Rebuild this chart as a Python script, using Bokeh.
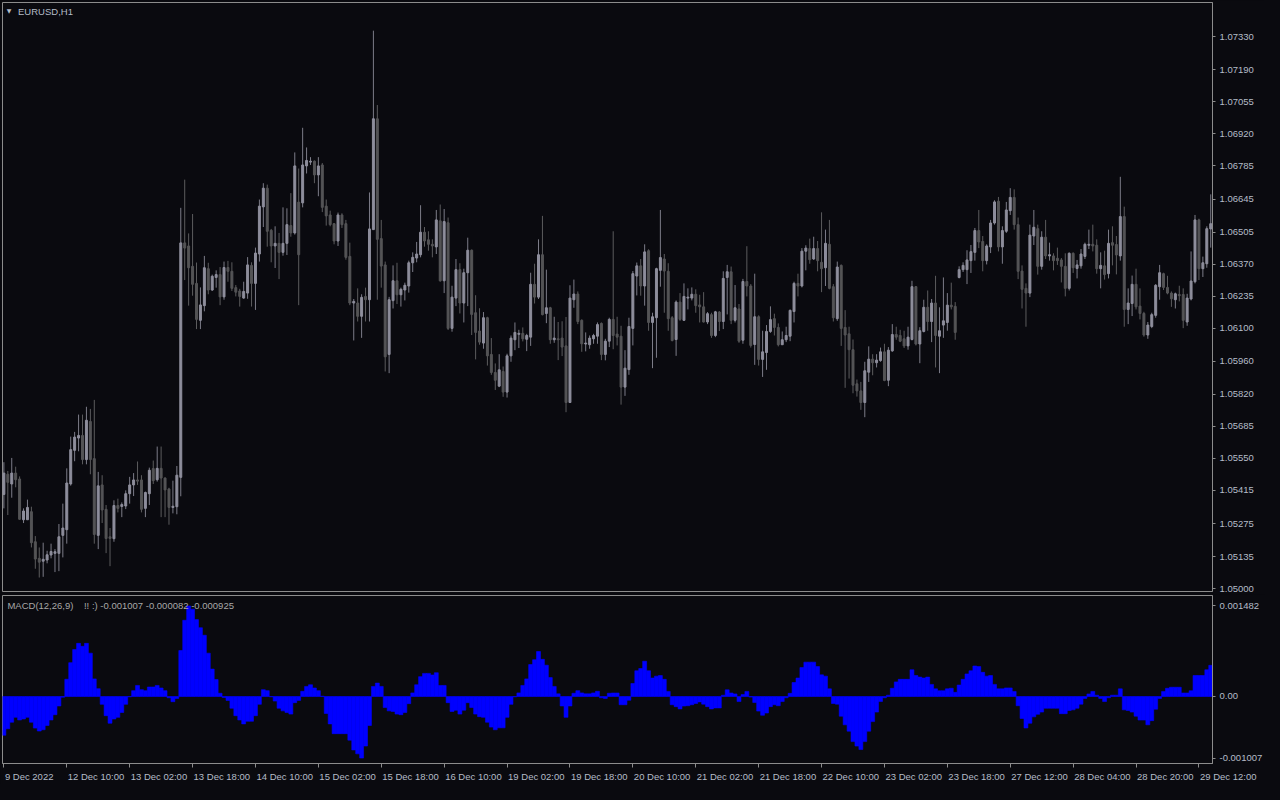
from bokeh.plotting import figure
from bokeh.models import (ColumnDataSource, Range1d, FixedTicker, Label,
                          PrintfTickFormatter, GlobalInlineStyleSheet)
from bokeh.layouts import column
from bokeh.embed import file_html
from bokeh.resources import INLINE
from bokeh.core.properties import value

# ---------------- data (EURUSD H1) ----------------
open_ = [
 1.05398, 1.05483, 1.05442, 1.05488, 1.05463, 1.05291, 1.05291, 1.05325, 1.05198, 1.05128,
 1.05116, 1.05121, 1.05142, 1.05149, 1.05149, 1.05225, 1.05249, 1.05442, 1.05584, 1.05636,
 1.05647, 1.05545, 1.05706, 1.05549, 1.05225, 1.05438, 1.05335, 1.05219, 1.05211, 1.05351,
 1.05347, 1.05349, 1.05401, 1.05438, 1.05459, 1.05459, 1.05339, 1.05401, 1.05507, 1.05460,
 1.05508, 1.05467, 1.05421, 1.05343, 1.05346, 1.05470, 1.06460, 1.06447, 1.06361, 1.06289,
 1.06133, 1.06195, 1.06351, 1.06261, 1.06314, 1.06326, 1.06232, 1.06356, 1.06340, 1.06271,
 1.06257, 1.06227, 1.06248, 1.06365, 1.06289, 1.06413, 1.06612, 1.06691, 1.06513, 1.06447,
 1.06458, 1.06420, 1.06458, 1.06533, 1.06502, 1.06632, 1.06629, 1.06785, 1.06801, 1.06805,
 1.06747, 1.06789, 1.06615, 1.06578, 1.06541, 1.06468, 1.06578, 1.06541, 1.06403, 1.06206,
 1.06206, 1.06150, 1.06234, 1.06220, 1.06516, 1.06984, 1.06478, 1.06367, 1.05989, 1.06216,
 1.06300, 1.06241, 1.06261, 1.06278, 1.06376, 1.06396, 1.06410, 1.06505, 1.06473, 1.06454,
 1.06443, 1.06553, 1.06300, 1.06545, 1.06099, 1.06227, 1.06347, 1.06206, 1.06334, 1.06429,
 1.06165, 1.06088, 1.06037, 1.06144, 1.05989, 1.05913, 1.05855, 1.05917, 1.05830, 1.05983,
 1.06051, 1.06074, 1.06078, 1.06053, 1.06062, 1.06285, 1.06231, 1.06410, 1.06162, 1.06186,
 1.06051, 1.06055, 1.06058, 1.06025, 1.05786, 1.06220, 1.06244, 1.06133, 1.06033, 1.06030,
 1.06055, 1.06066, 1.06120, 1.05989, 1.06045, 1.06137, 1.06075, 1.06066, 1.05851, 1.05925,
 1.06099, 1.06320, 1.06363, 1.06278, 1.06427, 1.06124, 1.06144, 1.06344, 1.06392, 1.06340,
 1.06144, 1.06052, 1.06210, 1.06133, 1.06227, 1.06227, 1.06243, 1.06198, 1.06190, 1.06126,
 1.06157, 1.06069, 1.06168, 1.06128, 1.06314, 1.06338, 1.06133, 1.06181, 1.06049, 1.06297,
 1.06278, 1.06031, 1.06148, 1.05968, 1.05997, 1.06086, 1.06140, 1.06103, 1.06030, 1.06051,
 1.06066, 1.06170, 1.06289, 1.06278, 1.06425, 1.06436, 1.06392, 1.06436, 1.06378, 1.06355,
 1.06454, 1.06275, 1.06140, 1.06365, 1.06103, 1.06076, 1.06009, 1.05865, 1.05835, 1.05786,
 1.05914, 1.05969, 1.05954, 1.05963, 1.06000, 1.05880, 1.06004, 1.06073, 1.06069, 1.06055,
 1.06025, 1.06052, 1.06275, 1.06033, 1.06086, 1.06188, 1.06128, 1.06206, 1.06066, 1.06113,
 1.06124, 1.06197, 1.06192, 1.06314, 1.06347, 1.06347, 1.06385, 1.06420, 1.06512, 1.06466,
 1.06385, 1.06443, 1.06544, 1.06636, 1.06443, 1.06509, 1.06596, 1.06652, 1.06537, 1.06341,
 1.06268, 1.06248, 1.06489, 1.06520, 1.06361, 1.06484, 1.06405, 1.06405, 1.06395, 1.06388,
 1.06361, 1.06268, 1.06416, 1.06352, 1.06363, 1.06403, 1.06450, 1.06454, 1.06450, 1.06351,
 1.06363, 1.06330, 1.06461, 1.06453, 1.06405, 1.06571, 1.06179, 1.06204, 1.06285, 1.06193,
 1.06162, 1.06071, 1.06107, 1.06154, 1.06275, 1.06330, 1.06272, 1.06248, 1.06220, 1.06242,
 1.06242, 1.06126, 1.06223, 1.06296, 1.06557, 1.06351, 1.06372, 1.06519]

high = [
 1.05534, 1.05497, 1.05552, 1.05515, 1.05474, 1.05339, 1.05376, 1.05346, 1.05222, 1.05174,
 1.05194, 1.05160, 1.05190, 1.05167, 1.05273, 1.05359, 1.05508, 1.05642, 1.05662, 1.05735,
 1.05735, 1.05768, 1.05759, 1.05797, 1.05493, 1.05479, 1.05353, 1.05256, 1.05373, 1.05380,
 1.05364, 1.05415, 1.05472, 1.05488, 1.05537, 1.05479, 1.05410, 1.05511, 1.05541, 1.05600,
 1.05600, 1.05470, 1.05426, 1.05456, 1.05518, 1.06608, 1.06727, 1.06500, 1.06582, 1.06377,
 1.06272, 1.06405, 1.06376, 1.06326, 1.06344, 1.06358, 1.06381, 1.06384, 1.06378, 1.06282,
 1.06266, 1.06296, 1.06400, 1.06378, 1.06440, 1.06643, 1.06712, 1.06706, 1.06519, 1.06530,
 1.06502, 1.06610, 1.06606, 1.06670, 1.06842, 1.06774, 1.06946, 1.06863, 1.06822, 1.06808,
 1.06822, 1.06797, 1.06643, 1.06596, 1.06544, 1.06588, 1.06585, 1.06557, 1.06461, 1.06223,
 1.06268, 1.06243, 1.06271, 1.06673, 1.07356, 1.07042, 1.06557, 1.06381, 1.06232, 1.06365,
 1.06376, 1.06271, 1.06292, 1.06385, 1.06420, 1.06464, 1.06619, 1.06527, 1.06509, 1.06475,
 1.06599, 1.06622, 1.06603, 1.06567, 1.06279, 1.06392, 1.06374, 1.06351, 1.06482, 1.06432,
 1.06239, 1.06184, 1.06168, 1.06148, 1.06058, 1.05951, 1.05990, 1.05938, 1.05992, 1.06069,
 1.06124, 1.06093, 1.06103, 1.06076, 1.06334, 1.06372, 1.06475, 1.06574, 1.06347, 1.06190,
 1.06148, 1.06126, 1.06129, 1.06147, 1.06281, 1.06305, 1.06255, 1.06137, 1.06082, 1.06069,
 1.06076, 1.06124, 1.06124, 1.06055, 1.06144, 1.06509, 1.06148, 1.06110, 1.06007, 1.06144,
 1.06341, 1.06377, 1.06392, 1.06454, 1.06433, 1.06165, 1.06355, 1.06599, 1.06413, 1.06374,
 1.06151, 1.06217, 1.06248, 1.06289, 1.06268, 1.06272, 1.06264, 1.06241, 1.06252, 1.06168,
 1.06165, 1.06173, 1.06172, 1.06340, 1.06367, 1.06360, 1.06282, 1.06202, 1.06308, 1.06446,
 1.06286, 1.06330, 1.06154, 1.06089, 1.06113, 1.06192, 1.06161, 1.06120, 1.06086, 1.06106,
 1.06179, 1.06296, 1.06330, 1.06438, 1.06450, 1.06478, 1.06486, 1.06468, 1.06589, 1.06516,
 1.06557, 1.06286, 1.06381, 1.06369, 1.06176, 1.06106, 1.06052, 1.05883, 1.05873, 1.05958,
 1.06023, 1.05990, 1.05990, 1.06018, 1.06034, 1.06020, 1.06117, 1.06106, 1.06093, 1.06089,
 1.06106, 1.06300, 1.06278, 1.06104, 1.06220, 1.06259, 1.06223, 1.06321, 1.06188, 1.06314,
 1.06248, 1.06292, 1.06210, 1.06361, 1.06378, 1.06429, 1.06451, 1.06523, 1.06599, 1.06489,
 1.06454, 1.06557, 1.06640, 1.06654, 1.06530, 1.06633, 1.06691, 1.06686, 1.06567, 1.06365,
 1.06289, 1.06537, 1.06599, 1.06537, 1.06509, 1.06557, 1.06461, 1.06416, 1.06440, 1.06396,
 1.06416, 1.06420, 1.06420, 1.06388, 1.06434, 1.06461, 1.06516, 1.06537, 1.06475, 1.06420,
 1.06427, 1.06516, 1.06530, 1.06489, 1.06739, 1.06613, 1.06268, 1.06322, 1.06351, 1.06268,
 1.06169, 1.06126, 1.06165, 1.06286, 1.06367, 1.06334, 1.06321, 1.06255, 1.06250, 1.06279,
 1.06268, 1.06245, 1.06424, 1.06578, 1.06562, 1.06402, 1.06530, 1.06665]

low = [
 1.05339, 1.05311, 1.05384, 1.05428, 1.05291, 1.05277, 1.05291, 1.05174, 1.05084, 1.05047,
 1.05050, 1.05107, 1.05128, 1.05070, 1.05074, 1.05132, 1.05190, 1.05435, 1.05538, 1.05580,
 1.05525, 1.05525, 1.05483, 1.05190, 1.05167, 1.05277, 1.05150, 1.05095, 1.05198, 1.05322,
 1.05302, 1.05336, 1.05359, 1.05391, 1.05438, 1.05322, 1.05302, 1.05353, 1.05442, 1.05452,
 1.05302, 1.05302, 1.05270, 1.05318, 1.05314, 1.05390, 1.06303, 1.06195, 1.06237, 1.06096,
 1.06096, 1.06171, 1.06243, 1.06257, 1.06271, 1.06197, 1.06220, 1.06296, 1.06257, 1.06234,
 1.06191, 1.06224, 1.06224, 1.06191, 1.06177, 1.06381, 1.06527, 1.06444, 1.06378, 1.06354,
 1.06307, 1.06406, 1.06409, 1.06486, 1.06495, 1.06197, 1.06610, 1.06753, 1.06789, 1.06712,
 1.06657, 1.06590, 1.06533, 1.06530, 1.06454, 1.06447, 1.06523, 1.06389, 1.06197, 1.06048,
 1.06128, 1.06059, 1.06128, 1.06128, 1.06516, 1.06220, 1.06271, 1.05917, 1.05910, 1.06183,
 1.06202, 1.06191, 1.06217, 1.06250, 1.06337, 1.06378, 1.06399, 1.06444, 1.06427, 1.06399,
 1.06413, 1.06296, 1.06248, 1.06092, 1.06085, 1.06193, 1.06162, 1.06124, 1.06193, 1.06071,
 1.05968, 1.06030, 1.06013, 1.05942, 1.05903, 1.05839, 1.05851, 1.05810, 1.05807, 1.05958,
 1.06007, 1.06016, 1.06044, 1.06003, 1.06025, 1.06204, 1.06223, 1.06154, 1.06121, 1.06034,
 1.06038, 1.05965, 1.05982, 1.05745, 1.05786, 1.06186, 1.06117, 1.06000, 1.06002, 1.06013,
 1.06034, 1.06034, 1.05965, 1.05964, 1.06020, 1.06011, 1.06027, 1.05777, 1.05814, 1.05903,
 1.06027, 1.06238, 1.06237, 1.06195, 1.06089, 1.05931, 1.05975, 1.06275, 1.06165, 1.06089,
 1.06044, 1.05983, 1.06131, 1.06131, 1.06179, 1.06217, 1.06165, 1.06124, 1.06124, 1.06117,
 1.06059, 1.06062, 1.06088, 1.06096, 1.06158, 1.06117, 1.06124, 1.06038, 1.06034, 1.06234,
 1.06018, 1.05945, 1.05942, 1.05894, 1.05924, 1.06080, 1.06069, 1.06023, 1.06030, 1.06041,
 1.06045, 1.06124, 1.06234, 1.06272, 1.06344, 1.06372, 1.06388, 1.06340, 1.06252, 1.06278,
 1.06264, 1.06128, 1.06131, 1.06025, 1.05848, 1.05887, 1.05825, 1.05811, 1.05755, 1.05724,
 1.05873, 1.05901, 1.05934, 1.05958, 1.05876, 1.05855, 1.06000, 1.06051, 1.06041, 1.06016,
 1.06009, 1.06048, 1.06027, 1.05952, 1.06082, 1.06089, 1.06041, 1.05934, 1.05910, 1.06059,
 1.06089, 1.06179, 1.06051, 1.06310, 1.06337, 1.06286, 1.06333, 1.06385, 1.06438, 1.06340,
 1.06369, 1.06417, 1.06537, 1.06424, 1.06372, 1.06502, 1.06578, 1.06516, 1.06307, 1.06183,
 1.06106, 1.06231, 1.06451, 1.06326, 1.06347, 1.06392, 1.06385, 1.06344, 1.06367, 1.06293,
 1.06234, 1.06259, 1.06333, 1.06310, 1.06351, 1.06392, 1.06434, 1.06424, 1.06330, 1.06268,
 1.06305, 1.06310, 1.06365, 1.06327, 1.06385, 1.06106, 1.06117, 1.06151, 1.06179, 1.06137,
 1.06064, 1.06055, 1.06100, 1.06144, 1.06220, 1.06261, 1.06243, 1.06190, 1.06183, 1.06213,
 1.06100, 1.06110, 1.06217, 1.06289, 1.06303, 1.06316, 1.06355, 1.06440]

close = [
 1.05488, 1.05449, 1.05488, 1.05460, 1.05293, 1.05328, 1.05343, 1.05194, 1.05125, 1.05112,
 1.05124, 1.05143, 1.05157, 1.05156, 1.05219, 1.05256, 1.05446, 1.05587, 1.05640, 1.05647,
 1.05545, 1.05711, 1.05545, 1.05229, 1.05434, 1.05332, 1.05212, 1.05212, 1.05351, 1.05339,
 1.05355, 1.05401, 1.05438, 1.05459, 1.05454, 1.05335, 1.05406, 1.05500, 1.05456, 1.05508,
 1.05467, 1.05417, 1.05343, 1.05348, 1.05479, 1.06460, 1.06438, 1.06355, 1.06285, 1.06137,
 1.06198, 1.06355, 1.06261, 1.06319, 1.06326, 1.06232, 1.06356, 1.06340, 1.06268, 1.06252,
 1.06234, 1.06255, 1.06367, 1.06289, 1.06417, 1.06615, 1.06691, 1.06509, 1.06447, 1.06458,
 1.06420, 1.06458, 1.06537, 1.06502, 1.06785, 1.06410, 1.06789, 1.06808, 1.06805, 1.06747,
 1.06785, 1.06610, 1.06574, 1.06537, 1.06468, 1.06578, 1.06537, 1.06399, 1.06206, 1.06213,
 1.06150, 1.06230, 1.06220, 1.06519, 1.06984, 1.06475, 1.06362, 1.05979, 1.06220, 1.06300,
 1.06241, 1.06264, 1.06281, 1.06376, 1.06399, 1.06413, 1.06505, 1.06468, 1.06454, 1.06447,
 1.06557, 1.06300, 1.06550, 1.06099, 1.06231, 1.06347, 1.06206, 1.06334, 1.06429, 1.06158,
 1.06082, 1.06041, 1.06144, 1.05983, 1.05913, 1.05880, 1.05924, 1.05830, 1.05983, 1.06058,
 1.06082, 1.06078, 1.06055, 1.06069, 1.06285, 1.06231, 1.06410, 1.06157, 1.06186, 1.06051,
 1.06058, 1.06051, 1.06020, 1.05786, 1.06227, 1.06244, 1.06128, 1.06034, 1.06037, 1.06058,
 1.06069, 1.06115, 1.05989, 1.06045, 1.06137, 1.06069, 1.06062, 1.05851, 1.05931, 1.06107,
 1.06330, 1.06363, 1.06278, 1.06422, 1.06124, 1.06148, 1.06351, 1.06398, 1.06341, 1.06140,
 1.06048, 1.06210, 1.06137, 1.06234, 1.06231, 1.06243, 1.06195, 1.06190, 1.06126, 1.06161,
 1.06069, 1.06169, 1.06128, 1.06310, 1.06338, 1.06133, 1.06186, 1.06045, 1.06297, 1.06278,
 1.06027, 1.06148, 1.05968, 1.06000, 1.06086, 1.06136, 1.06103, 1.06030, 1.06051, 1.06069,
 1.06175, 1.06289, 1.06278, 1.06425, 1.06438, 1.06389, 1.06436, 1.06385, 1.06351, 1.06458,
 1.06268, 1.06144, 1.06358, 1.06099, 1.06071, 1.06009, 1.05859, 1.05835, 1.05786, 1.05920,
 1.05969, 1.05954, 1.05965, 1.06000, 1.05879, 1.06007, 1.06073, 1.06062, 1.06045, 1.06025,
 1.06062, 1.06275, 1.06033, 1.06089, 1.06188, 1.06128, 1.06206, 1.06069, 1.06089, 1.06131,
 1.06197, 1.06190, 1.06082, 1.06347, 1.06365, 1.06388, 1.06423, 1.06512, 1.06464, 1.06385,
 1.06447, 1.06544, 1.06633, 1.06443, 1.06512, 1.06599, 1.06652, 1.06537, 1.06340, 1.06264,
 1.06248, 1.06493, 1.06526, 1.06361, 1.06484, 1.06405, 1.06410, 1.06385, 1.06385, 1.06361,
 1.06268, 1.06416, 1.06355, 1.06367, 1.06413, 1.06454, 1.06454, 1.06447, 1.06351, 1.06365,
 1.06326, 1.06458, 1.06450, 1.06409, 1.06571, 1.06179, 1.06206, 1.06285, 1.06190, 1.06162,
 1.06071, 1.06113, 1.06157, 1.06281, 1.06334, 1.06272, 1.06248, 1.06224, 1.06245, 1.06237,
 1.06133, 1.06227, 1.06299, 1.06557, 1.06351, 1.06376, 1.06520, 1.06541]

macd_hist = [
 -0.000634, -0.000528, -0.000421, -0.000341, -0.000384, -0.000368, -0.000341, -0.000421, -0.000517, -0.000565,
 -0.000544, -0.000474, -0.000384, -0.000298, -0.000155, -0.000011, 0.000282, 0.000554, 0.000768, 0.000869,
 0.000821, 0.000869, 0.000709, 0.000288, 0.000128, -0.000128, -0.000314, -0.000437, -0.000368, -0.000341,
 -0.000261, -0.000128, -0.000005, 0.000096, 0.000181, 0.000112, 0.000096, 0.000155, 0.000155, 0.000181,
 0.000139, 0.000096, -0.000021, -0.000085, -0.000032, 0.000752, 0.001247, 0.001482, 0.001428, 0.001258,
 0.001125, 0.001002, 0.000709, 0.000448, 0.000277, 0.000053, -0.000016, -0.000064, -0.000192, -0.000314,
 -0.000384, -0.000448, -0.000405, -0.000405, -0.000314, -0.000128, 0.000112, 0.000096, -0.000005, -0.000075,
 -0.000192, -0.000235, -0.000261, -0.000288, -0.000101, -0.000064, 0.000085, 0.000165, 0.000192, 0.000139,
 0.000096, 0.000005, -0.000277, -0.000448, -0.000608, -0.000608, -0.000608, -0.000608, -0.000714, -0.000874,
 -0.000938, -0.001007, -0.000810, -0.000474, 0.000165, 0.000219, 0.000165, -0.000181, -0.000235, -0.000245,
 -0.000288, -0.000298, -0.000261, -0.000117, 0.000059, 0.000192, 0.000325, 0.000378, 0.000378, 0.000352,
 0.000389, 0.000181, 0.000181, -0.000101, -0.000245, -0.000224, -0.000288, -0.000224, -0.000101, -0.000181,
 -0.000288, -0.000330, -0.000341, -0.000421, -0.000501, -0.000544, -0.000512, -0.000512, -0.000341, -0.000128,
 -0.000005, 0.000059, 0.000181, 0.000288, 0.000522, 0.000602, 0.000736, 0.000608, 0.000512, 0.000309,
 0.000165, 0.000043, -0.000155, -0.000341, -0.000155, 0.000053, 0.000096, 0.000059, 0.000043, 0.000043,
 0.000059, 0.000085, -0.000021, -0.000032, 0.000053, 0.000057, 0.000057, -0.000135, -0.000135, -0.000062,
 0.000213, 0.000421, 0.000458, 0.000577, 0.000421, 0.000302, 0.000333, 0.000343, 0.000281, 0.000083,
 -0.000135, -0.000166, -0.000203, -0.000156, -0.000151, -0.000135, -0.000114, -0.000088, -0.000125, -0.000166,
 -0.000203, -0.000187, -0.000187, 0.000021, 0.000109, 0.000057, 0.000042, -0.000083, 0.000031, 0.000083,
 -0.000010, -0.000099, -0.000239, -0.000307, -0.000270, -0.000166, -0.000135, -0.000151, -0.000083, -0.000021,
 0.000052, 0.000229, 0.000302, 0.000473, 0.000562, 0.000562, 0.000562, 0.000489, 0.000354, 0.000333,
 0.000125, -0.000114, -0.000125, -0.000322, -0.000463, -0.000567, -0.000738, -0.000811, -0.000868, -0.000738,
 -0.000567, -0.000411, -0.000255, -0.000083, -0.000021, 0.000021, 0.000135, 0.000239, 0.000281, 0.000281,
 0.000281, 0.000437, 0.000343, 0.000317, 0.000302, 0.000317, 0.000198, 0.000125, 0.000094, 0.000094,
 0.000125, 0.000135, 0.000068, 0.000187, 0.000281, 0.000369, 0.000421, 0.000499, 0.000489, 0.000395,
 0.000333, 0.000343, 0.000198, 0.000125, 0.000125, 0.000140, 0.000140, 0.000083, -0.000151, -0.000359,
 -0.000515, -0.000437, -0.000333, -0.000291, -0.000255, -0.000192, -0.000192, -0.000192, -0.000192, -0.000281,
 -0.000281, -0.000229, -0.000218, -0.000192, -0.000125, -0.000031, 0.000042, 0.000083, 0.000021, -0.000031,
 -0.000083, -0.000021, 0.000021, 0.000021, 0.000125, -0.000218, -0.000229, -0.000255, -0.000322, -0.000385,
 -0.000385, -0.000463, -0.000395, -0.000208, -0.000031, 0.000083, 0.000135, 0.000151, 0.000151, 0.000151,
 0.000057, 0.000057, 0.000094, 0.000343, 0.000343, 0.000343, 0.000437, 0.000510]

price_ticks = [1.05000, 1.05135, 1.05275, 1.05415, 1.05550, 1.05685, 1.05820, 1.05960, 1.06100,
               1.06235, 1.06370, 1.06505, 1.06645, 1.06785, 1.06920, 1.07055, 1.07190, 1.07330]
time_tick_bars = [0, 16, 32, 48, 64, 80, 96, 112, 128, 144, 160, 176, 192, 208, 224, 240, 256, 272, 288, 304]
time_tick_labels = ["9 Dec 2022", "12 Dec 10:00", "13 Dec 02:00", "13 Dec 18:00", "14 Dec 10:00",
                    "15 Dec 02:00", "15 Dec 18:00", "16 Dec 10:00", "19 Dec 02:00", "19 Dec 18:00",
                    "20 Dec 10:00", "21 Dec 02:00", "21 Dec 18:00", "22 Dec 10:00", "23 Dec 02:00",
                    "23 Dec 18:00", "27 Dec 12:00", "28 Dec 04:00", "28 Dec 20:00", "29 Dec 12:00"]
macd_ticks = [-0.001007, 0.0, 0.001482]
macd_tick_labels = ["-0.001007", "0.00", "0.001482"]
symbol_title = "EURUSD,H1"
macd_title = "MACD(12,26,9)\u00a0\u00a0\u00a0\u00a0!! :) -0.001007 -0.000082 -0.000925"

assert len(open_) == len(high) == len(low) == len(close) == len(macd_hist) == 308

# ---------------- styling ----------------
BG = "#0a0a0f"
FRAME = "#8c8c8c"
TXT = "#b4bcc8"
FONT = "Liberation Sans"
FS = "9.5px"
UP_BODY, UP_WICK = "#8e8e9c", "#7c7c88"
DN_BODY, DN_WICK = "#545456", "#5c5c5e"
FW = 1210          # frame width of both panels
RB = 52            # right border (price axis)
LB = 2

n = len(close)
idx = list(range(n))
is_up = [c >= o for o, c in zip(open_, close)]
src = ColumnDataSource(dict(
    x=idx, open=open_, high=high, low=low, close=close,
    body=[UP_BODY if u else DN_BODY for u in is_up],
    wick=[UP_WICK if u else DN_WICK for u in is_up],
))

xr = Range1d(-0.35, 307.45)


def style_right_axis(ax):
    ax.axis_line_color = FRAME
    ax.major_tick_line_color = FRAME
    ax.minor_tick_line_color = None
    ax.major_tick_out = 3
    ax.major_tick_in = 0
    ax.major_label_standoff = 4
    ax.major_label_text_color = TXT
    ax.major_label_text_font = FONT
    ax.major_label_text_font_size = FS


# ---------------- price panel ----------------
p_lo, p_hi = 1.04988, 1.07475
p = figure(frame_width=FW, frame_height=589, x_range=xr, y_range=Range1d(p_lo, p_hi),
           output_backend="svg", toolbar_location=None, x_axis_location=None, y_axis_location="right",
           min_border_left=LB, min_border_right=RB, min_border_top=2, min_border_bottom=3,
           background_fill_color=BG, border_fill_color=BG, outline_line_color=FRAME)
p.grid.visible = False
ya = p.yaxis[0]
ya.ticker = FixedTicker(ticks=price_ticks)
ya.formatter = PrintfTickFormatter(format="%.5f")
style_right_axis(ya)

p.segment(x0="x", x1="x", y0="low", y1="high", line_color="wick", line_width=1, source=src)
p.vbar(x="x", width=0.5, top="close", bottom="open", fill_color="body", line_color="body",
       line_width=1, source=src)

p.add_layout(Label(x=0.75, y=p_hi, y_offset=-4, text="\u25bc", text_baseline="top",
                   text_font="DejaVu Sans", text_font_size="6px", text_color=TXT))
p.add_layout(Label(x=3.6, y=p_hi, y_offset=-3, text=symbol_title, text_baseline="top",
                   text_font=FONT, text_font_size=FS, text_color=TXT))

# ---------------- MACD panel ----------------
m_lo, m_hi = -0.001096, 0.001652
m = figure(frame_width=FW, frame_height=168, x_range=xr, y_range=Range1d(m_lo, m_hi),
           output_backend="svg", toolbar_location=None, x_axis_location="below", y_axis_location="right",
           min_border_left=LB, min_border_right=RB, min_border_top=1, min_border_bottom=6,
           background_fill_color=BG, border_fill_color=BG, outline_line_color=FRAME)
m.grid.visible = False
my = m.yaxis[0]
my.ticker = FixedTicker(ticks=macd_ticks)
my.major_label_overrides = {t: s for t, s in zip(macd_ticks, macd_tick_labels)}
style_right_axis(my)

mx = m.xaxis[0]
mx.ticker = FixedTicker(ticks=time_tick_bars)
mx.axis_line_color = FRAME
mx.major_tick_line_color = FRAME
mx.minor_tick_line_color = None
mx.major_tick_out = 4
mx.major_tick_in = 0
mx.major_label_standoff = 0
mx.major_label_text_font_size = "1px"
mx.major_label_text_color = None

m.vbar(x=idx, width=1.0, top=macd_hist, bottom=0, fill_color="#0000ff", line_color="#0000ff",
       line_width=0.6)
m.add_layout(Label(x=0.9, y=m_hi, y_offset=-4, text=macd_title, text_baseline="top",
                   text_font=FONT, text_font_size=FS, text_color="#a8a8a8"))

# ---------------- time-label strip (same bar scale, wider so the last label fits) ----------------
TW = FW + RB
tr = Range1d(xr.start, xr.start + (xr.end - xr.start) * TW / FW)
t = figure(frame_width=TW, frame_height=15, x_range=tr, y_range=Range1d(0, 1),
           output_backend="svg", toolbar_location=None, x_axis_location=None, y_axis_location=None,
           min_border_left=LB, min_border_right=0, min_border_top=0, min_border_bottom=0,
           background_fill_color=BG, border_fill_color=BG, outline_line_color=None)
t.grid.visible = False
t.text(x=time_tick_bars, y=[1] * len(time_tick_bars), text=time_tick_labels,
       x_offset=1, y_offset=1, text_align="left", text_baseline="top",
       text_font=value(FONT), text_font_size=value(FS), text_color=TXT)

layout = column(p, m, t, stylesheets=[GlobalInlineStyleSheet(css="html, body { background-color: #0a0a0f; }")])

open("out.html", "w").write(file_html(layout, INLINE))
